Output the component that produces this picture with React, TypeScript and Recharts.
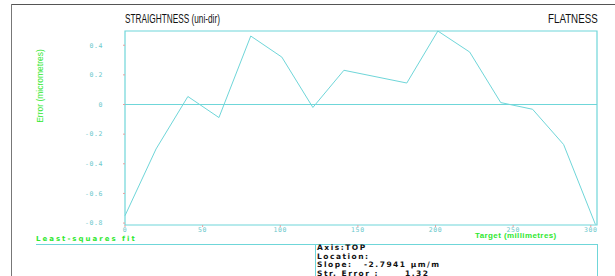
import React from 'react'
import { LineChart, Line, XAxis, YAxis, ReferenceLine, ReferenceArea } from 'recharts'

// target positions (mm) and straightness error (micrometres)
const targets: number[] = [0, 20, 40.5, 60.5, 81, 101, 121, 141, 181.5, 201.5, 222, 242, 262.5, 282.5, 303]
const errors: number[] = [-0.75, -0.3, 0.054, -0.088, 0.462, 0.32, -0.02, 0.231, 0.145, 0.496, 0.354, 0.013, -0.032, -0.27, -0.81]

const xTicks: number[] = [0, 50, 100, 150, 200, 250, 300]
const yTicks: number[] = [-0.8, -0.6, -0.4, -0.2, 0, 0.2, 0.4]

const infoLabels: string[] = ['Axis:TOP', 'Location:', 'Slope:', 'Str. Error :']
const infoValues: string[] = ['', '', '-2.7941 \u00b5m/m', '1.32']
const infoValueX: number[] = [0, 0, 48, 89]

const CYAN = '#6fd6d9'
const GREEN = '#2fe82f'

const data = targets.map((t, i) => ({ target: t, error: errors[i] }))

const tickStyle = { fontFamily: 'DejaVu Sans Mono', fontSize: 6.5, fill: '#6cc8cc', letterSpacing: 0.6 }

const infoFont: React.CSSProperties = {
    position: 'absolute', whiteSpace: 'pre', fontFamily: 'DejaVu Sans', fontWeight: 'bold',
    fontSize: 7.5, lineHeight: '8px', letterSpacing: 1.5, color: '#111'
}

const App: React.FunctionComponent = () => {
    return (
        <div style={{ position: 'absolute', left: 0, top: 0, width: 615, height: 276, background: '#fff', overflow: 'hidden' }}>
            {/* frame */}
            <div style={{ position: 'absolute', left: 11, top: 4, width: 604, height: 1, background: '#555' }} />
            <div style={{ position: 'absolute', left: 11, top: 4, width: 1, height: 272, background: '#777' }} />

            <div style={{
                position: 'absolute', left: 125, top: 12, fontFamily: '"Liberation Sans", Arial', fontSize: 12.5, color: '#111',
                whiteSpace: 'nowrap', transform: 'scaleX(0.66)', transformOrigin: '0 0'
            }}>
                STRAIGHTNESS (uni-dir)
            </div>
            <div style={{
                position: 'absolute', right: 17, top: 12, fontFamily: '"Liberation Sans", Arial', fontSize: 12.5, color: '#111',
                whiteSpace: 'nowrap', transform: 'scaleX(0.78)', transformOrigin: '100% 0'
            }}>
                FLATNESS
            </div>

            <div style={{
                position: 'absolute', left: 39.5, top: 86, transform: 'translate(-50%, -50%) rotate(-90deg)',
                whiteSpace: 'nowrap', fontFamily: '"Liberation Sans", Arial', fontSize: 8.5, color: GREEN
            }}>
                Error (micrometres)
            </div>

            <LineChart width={615} height={276} data={data} margin={{ top: 31, right: 18, bottom: 31, left: 0 }}>
                <XAxis
                    dataKey="target"
                    type="number"
                    domain={[0, 304]}
                    ticks={xTicks}
                    height={20}
                    axisLine={false}
                    tickSize={2}
                    tickMargin={0}
                    tickLine={{ stroke: '#e8a0a0' }}
                    tick={tickStyle}
                />
                <YAxis
                    type="number"
                    domain={[-0.813, 0.496]}
                    ticks={yTicks}
                    width={125}
                    axisLine={false}
                    tickSize={2}
                    tickMargin={20}
                    tickLine={{ stroke: '#e8a0a0' }}
                    tick={tickStyle}
                    tickFormatter={(v: number) => String(v)}
                />
                <ReferenceArea x1={0} x2={304} y1={-0.813} y2={0.496} fill="none" stroke={CYAN} strokeWidth={1.2} />
                <ReferenceLine y={0} stroke={CYAN} strokeWidth={1.2} />
                <Line type="linear" dataKey="error" stroke={CYAN} strokeWidth={1} dot={false} isAnimationActive={false} />
            </LineChart>

            <div style={{ position: 'absolute', left: 475, top: 231, fontFamily: '"Liberation Sans", Arial', fontWeight: 'bold', fontSize: 8, letterSpacing: 0.4, color: GREEN }}>
                Target (millimetres)
            </div>

            <div style={{ position: 'absolute', left: 36, top: 235, fontFamily: 'DejaVu Sans', fontWeight: 'bold', fontSize: 7, letterSpacing: 2, color: GREEN }}>
                Least-squares fit
            </div>
            <div style={{ position: 'absolute', left: 36, top: 244, width: 561, height: 1, background: CYAN }} />

            <div style={{ position: 'absolute', left: 315, top: 244, width: 281, height: 40, borderLeft: `1px solid ${CYAN}`, borderRight: `1px solid ${CYAN}` }}>
                {infoLabels.map((label, i) => (
                    <React.Fragment key={`info-${i}`}>
                        <div style={{ ...infoFont, left: 1, top: i * 8.6 }}>{label}</div>
                        {infoValues[i] && <div style={{ ...infoFont, left: infoValueX[i], top: i * 8.6 }}>{infoValues[i]}</div>}
                    </React.Fragment>
                ))}
            </div>
        </div>
    )
}

export default App
